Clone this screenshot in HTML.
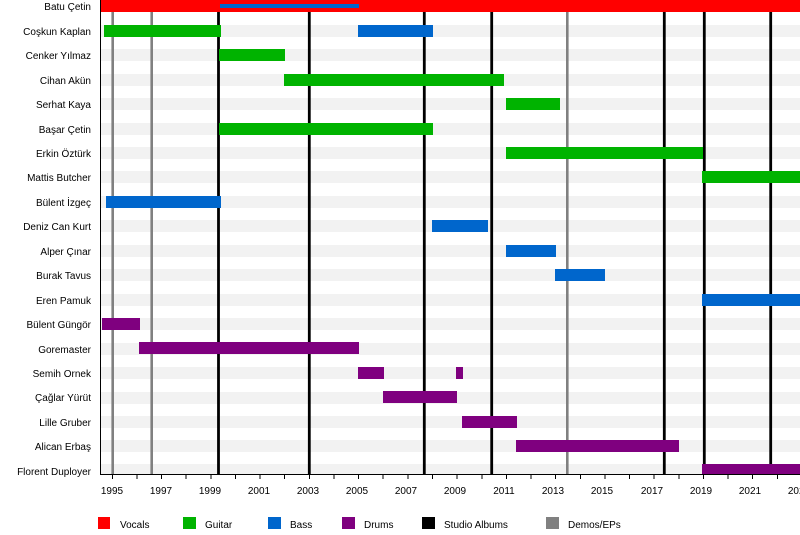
<!DOCTYPE html>
<html>
<head>
<meta charset="utf-8">
<style>
html,body{margin:0;padding:0;background:#fff;}
svg{display:block;}
text{font-family:"Liberation Sans",Arial,sans-serif;font-size:10px;fill:#000;}
</style>
</head>
<body>
<svg width="800" height="535" viewBox="0 0 800 535" xmlns="http://www.w3.org/2000/svg">
<rect x="0" y="0" width="800" height="535" fill="#fff"/>
<!-- background stripes -->
<g fill="#f2f2f2" shape-rendering="crispEdges">
<rect x="101" y="25" width="699" height="12"/>
<rect x="101" y="49" width="699" height="12"/>
<rect x="101" y="74" width="699" height="12"/>
<rect x="101" y="98" width="699" height="12"/>
<rect x="101" y="123" width="699" height="12"/>
<rect x="101" y="147" width="699" height="12"/>
<rect x="101" y="171" width="699" height="12"/>
<rect x="101" y="196" width="699" height="12"/>
<rect x="101" y="220" width="699" height="12"/>
<rect x="101" y="245" width="699" height="12"/>
<rect x="101" y="269" width="699" height="12"/>
<rect x="101" y="294" width="699" height="12"/>
<rect x="101" y="318" width="699" height="12"/>
<rect x="101" y="343" width="699" height="12"/>
<rect x="101" y="367" width="699" height="12"/>
<rect x="101" y="392" width="699" height="12"/>
<rect x="101" y="416" width="699" height="12"/>
<rect x="101" y="440" width="699" height="12"/>
<rect x="101" y="464" width="699" height="10"/>
</g>
<!-- vertical event lines -->
<g stroke="#808080" stroke-width="2.6">
<line x1="112.7" y1="12" x2="112.7" y2="474"/>
<line x1="151.7" y1="12" x2="151.7" y2="474"/>
<line x1="567.3" y1="12" x2="567.3" y2="474"/>
</g>
<g stroke="#000" stroke-width="2.8">
<line x1="218.5" y1="12" x2="218.5" y2="474"/>
<line x1="309.3" y1="12" x2="309.3" y2="474"/>
<line x1="424.3" y1="12" x2="424.3" y2="474"/>
<line x1="491.7" y1="12" x2="491.7" y2="474"/>
<line x1="664.3" y1="12" x2="664.3" y2="474"/>
<line x1="704.3" y1="12" x2="704.3" y2="474"/>
<line x1="770.7" y1="12" x2="770.7" y2="474"/>
</g>
<!-- bars -->
<g shape-rendering="crispEdges">
<!-- Batu -->
<rect x="100" y="0" width="700" height="12" fill="#ff0000"/>
<rect x="220" y="4" width="139" height="4" fill="#0066cc"/>
<!-- Coşkun -->
<rect x="104" y="25" width="117" height="12" fill="#00b300"/>
<rect x="358" y="25" width="75" height="12" fill="#0066cc"/>
<!-- Cenker -->
<rect x="219" y="49" width="66" height="12" fill="#00b300"/>
<!-- Cihan -->
<rect x="284" y="74" width="220" height="12" fill="#00b300"/>
<!-- Serhat -->
<rect x="506" y="98" width="54" height="12" fill="#00b300"/>
<!-- Başar -->
<rect x="219" y="123" width="214" height="12" fill="#00b300"/>
<!-- Erkin -->
<rect x="506" y="147" width="197" height="12" fill="#00b300"/>
<!-- Mattis -->
<rect x="702" y="171" width="98" height="12" fill="#00b300"/>
<!-- Bülent İzgeç -->
<rect x="106" y="196" width="115" height="12" fill="#0066cc"/>
<!-- Deniz -->
<rect x="432" y="220" width="56" height="12" fill="#0066cc"/>
<!-- Alper -->
<rect x="506" y="245" width="50" height="12" fill="#0066cc"/>
<!-- Burak -->
<rect x="555" y="269" width="50" height="12" fill="#0066cc"/>
<!-- Eren -->
<rect x="702" y="294" width="98" height="12" fill="#0066cc"/>
<!-- Bülent Güngör -->
<rect x="102" y="318" width="38" height="12" fill="#7f007f"/>
<!-- Goremaster -->
<rect x="139" y="342" width="220" height="12" fill="#7f007f"/>
<!-- Semih -->
<rect x="358" y="367" width="26" height="12" fill="#7f007f"/>
<rect x="456" y="367" width="7" height="12" fill="#7f007f"/>
<!-- Çağlar -->
<rect x="383" y="391" width="74" height="12" fill="#7f007f"/>
<!-- Lille -->
<rect x="462" y="416" width="55" height="12" fill="#7f007f"/>
<!-- Alican -->
<rect x="516" y="440" width="163" height="12" fill="#7f007f"/>
<!-- Florent -->
<rect x="702" y="464" width="98" height="10" fill="#7f007f"/>
</g>
<!-- axes -->
<g stroke="#000" stroke-width="1" shape-rendering="crispEdges">
<line x1="100.5" y1="0" x2="100.5" y2="474.5"/>
<line x1="100" y1="474.5" x2="800" y2="474.5"/>
<line x1="112.3" y1="474" x2="112.3" y2="479"/>
<line x1="136.9" y1="474" x2="136.9" y2="479"/>
<line x1="161.6" y1="474" x2="161.6" y2="479"/>
<line x1="186.2" y1="474" x2="186.2" y2="479"/>
<line x1="210.8" y1="474" x2="210.8" y2="479"/>
<line x1="235.5" y1="474" x2="235.5" y2="479"/>
<line x1="260.1" y1="474" x2="260.1" y2="479"/>
<line x1="284.7" y1="474" x2="284.7" y2="479"/>
<line x1="309.3" y1="474" x2="309.3" y2="479"/>
<line x1="334.0" y1="474" x2="334.0" y2="479"/>
<line x1="358.6" y1="474" x2="358.6" y2="479"/>
<line x1="383.2" y1="474" x2="383.2" y2="479"/>
<line x1="407.9" y1="474" x2="407.9" y2="479"/>
<line x1="432.5" y1="474" x2="432.5" y2="479"/>
<line x1="457.1" y1="474" x2="457.1" y2="479"/>
<line x1="481.8" y1="474" x2="481.8" y2="479"/>
<line x1="506.4" y1="474" x2="506.4" y2="479"/>
<line x1="531.0" y1="474" x2="531.0" y2="479"/>
<line x1="555.6" y1="474" x2="555.6" y2="479"/>
<line x1="580.3" y1="474" x2="580.3" y2="479"/>
<line x1="604.9" y1="474" x2="604.9" y2="479"/>
<line x1="629.5" y1="474" x2="629.5" y2="479"/>
<line x1="654.2" y1="474" x2="654.2" y2="479"/>
<line x1="678.8" y1="474" x2="678.8" y2="479"/>
<line x1="703.4" y1="474" x2="703.4" y2="479"/>
<line x1="728.1" y1="474" x2="728.1" y2="479"/>
<line x1="752.7" y1="474" x2="752.7" y2="479"/>
<line x1="777.3" y1="474" x2="777.3" y2="479"/>
</g>
<!-- tick labels -->
<g text-anchor="middle">
<text x="112" y="494">1995</text>
<text x="161" y="494">1997</text>
<text x="210" y="494">1999</text>
<text x="259" y="494">2001</text>
<text x="308" y="494">2003</text>
<text x="357" y="494">2005</text>
<text x="406" y="494">2007</text>
<text x="455" y="494">2009</text>
<text x="504" y="494">2011</text>
<text x="553" y="494">2013</text>
<text x="602" y="494">2015</text>
<text x="652" y="494">2017</text>
<text x="701" y="494">2019</text>
<text x="750" y="494">2021</text>
<text x="799" y="494">2023</text>
</g>
<!-- row labels -->
<g text-anchor="end">
<text x="91" y="10">Batu Çetin</text>
<text x="91" y="35">Coşkun Kaplan</text>
<text x="91" y="59">Cenker Yılmaz</text>
<text x="91" y="84">Cihan Akün</text>
<text x="91" y="108">Serhat Kaya</text>
<text x="91" y="133">Başar Çetin</text>
<text x="91" y="157">Erkin Öztürk</text>
<text x="91" y="181">Mattis Butcher</text>
<text x="91" y="206">Bülent İzgeç</text>
<text x="91" y="230">Deniz Can Kurt</text>
<text x="91" y="255">Alper Çınar</text>
<text x="91" y="279">Burak Tavus</text>
<text x="91" y="304">Eren Pamuk</text>
<text x="91" y="328">Bülent Güngör</text>
<text x="91" y="353">Goremaster</text>
<text x="91" y="377">Semih Ornek</text>
<text x="91" y="401">Çağlar Yürüt</text>
<text x="91" y="426">Lille Gruber</text>
<text x="91" y="450">Alican Erbaş</text>
<text x="91" y="475">Florent Duployer</text>
</g>
<!-- legend -->
<g shape-rendering="crispEdges">
<rect x="98" y="517" width="12" height="12" fill="#ff0000"/>
<rect x="183" y="517" width="13" height="12" fill="#00b300"/>
<rect x="268" y="517" width="13" height="12" fill="#0066cc"/>
<rect x="342" y="517" width="13" height="12" fill="#7f007f"/>
<rect x="422" y="517" width="13" height="12" fill="#000000"/>
<rect x="546" y="517" width="13" height="12" fill="#808080"/>
</g>
<text x="120" y="528">Vocals</text>
<text x="205" y="528">Guitar</text>
<text x="290" y="528">Bass</text>
<text x="364" y="528">Drums</text>
<text x="444" y="528">Studio Albums</text>
<text x="568" y="528">Demos/EPs</text>
</svg>
</body>
</html>
